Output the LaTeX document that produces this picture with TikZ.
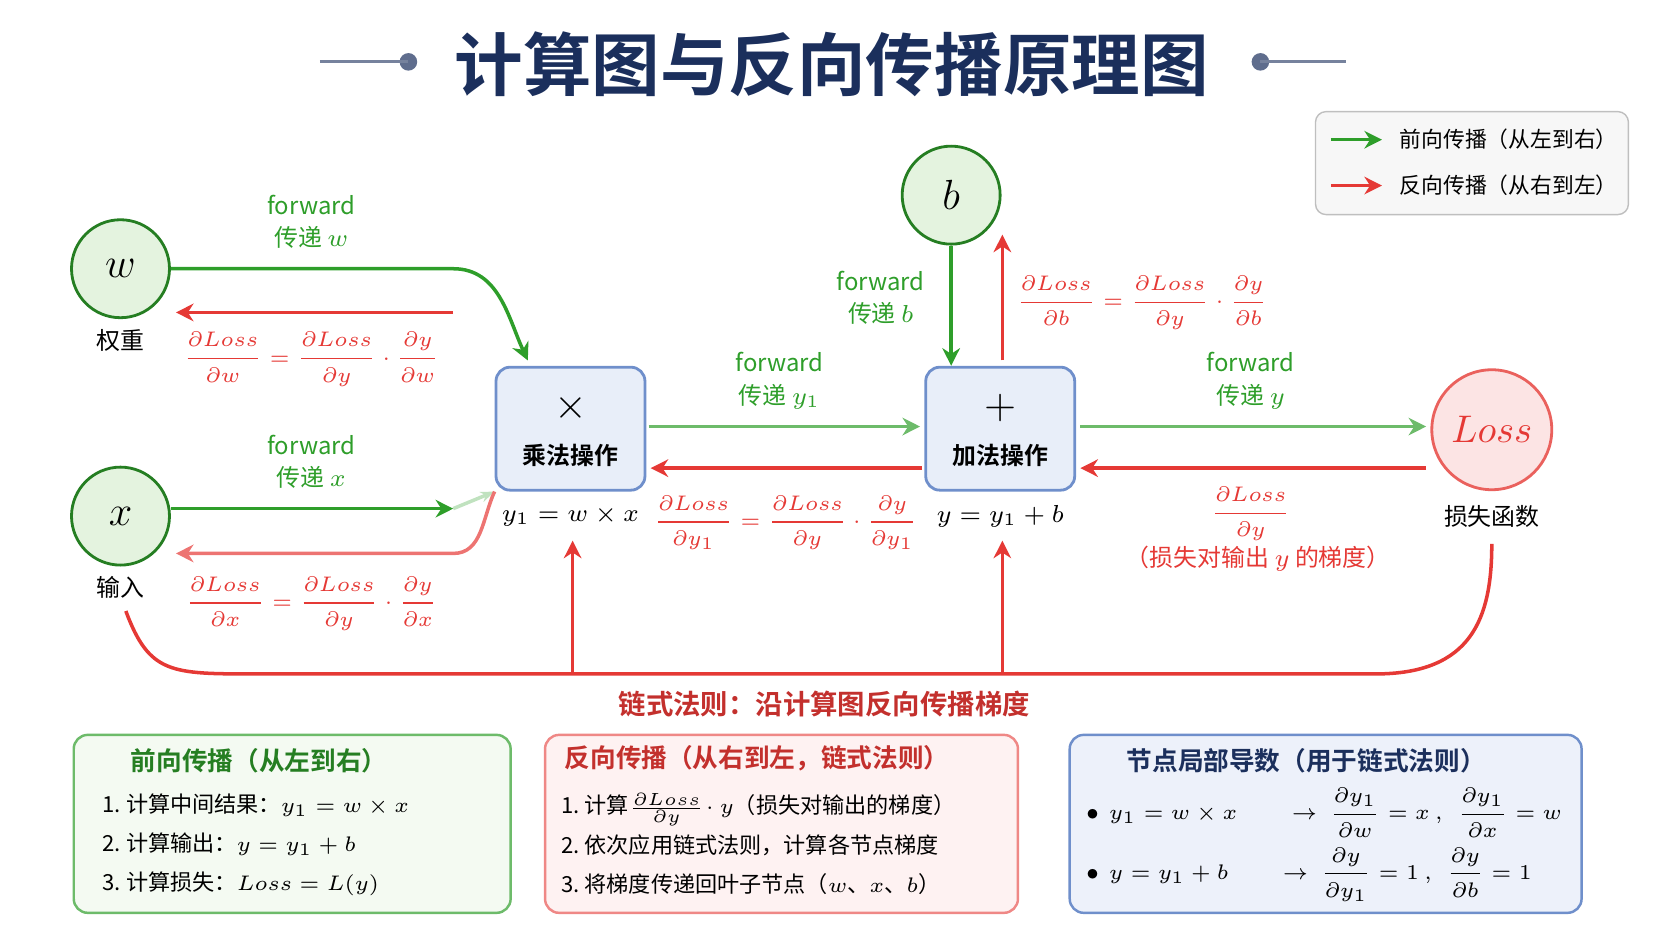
\documentclass[tikz,border=0pt]{standalone}
\usepackage{amsmath}
\usepackage{fontspec}
\newfontfamily\cjk{Noto Sans CJK SC}
\newfontfamily\cjkb{Noto Sans CJK SC Bold}
\usetikzlibrary{calc,arrows.meta}
\definecolor{fgreen}{HTML}{2E9E2A}
\definecolor{lgreen}{HTML}{E4F3DF}
\definecolor{bred}{HTML}{E53935}
\definecolor{lred}{HTML}{FCE4E4}
\definecolor{bblue}{HTML}{6F8FCB}
\definecolor{lblue}{HTML}{E8EEF9}
\definecolor{navy}{HTML}{1B2F5C}
\newcommand{\fs}[1]{\fontsize{#1}{#1}\selectfont}
\begin{document}
\begin{tikzpicture}[x={(0.010663cm,0)},y={(0,-0.010663cm)},
    leaf/.style={circle,draw=fgreen!80!black,line width=0.8pt,fill=lgreen,minimum size=0.98cm,inner sep=0pt},
    op/.style={rounded corners=4pt,draw=bblue,line width=0.8pt,fill=lblue,minimum width=1.49cm,minimum height=1.23cm},
    lbl/.style={font=\cjk\fs{6.8}},
    fwd/.style={font=\cjk\fontsize{6.8}{9.2}\selectfont,text=fgreen,align=center},
    grad/.style={font=\fs{6.4},text=bred},
    garr/.style={-{Stealth[length=5pt,width=5pt]},fgreen,line width=1pt},
    rarr/.style={-{Stealth[length=5pt,width=5pt]},bred,line width=1pt},
    panel/.style={rounded corners=4pt,line width=0.7pt,minimum height=1.78cm,anchor=north west},
    item/.style={font=\cjk\fs{6.3},anchor=west,inner sep=0.5pt}]
\useasboundingbox (0,0) rectangle (1568,882);
% title
\node[font=\cjkb\fs{19.5},text=navy] (title) at (780,60) {计算图与反向传播原理图};
\coordinate (tl) at (300,58); \coordinate (tr) at (1262,58);
\fill[navy!70] (383,58) circle (2.5pt) (1182,58) circle (2.5pt);
\draw[navy!60,line width=0.8pt] (tl) -- (383,58) (1182,58) -- (tr);
% legend
\node[draw=gray!50,fill=gray!6,rounded corners=3pt,minimum width=3.13cm,minimum height=1.03cm,anchor=north west] (leg) at (1233,104) {};
\coordinate (lg1) at (1248,131); \coordinate (lg2) at (1296,131);
\coordinate (lr1) at (1248,174); \coordinate (lr2) at (1296,174);
\draw[garr] (lg1) -- (lg2);
\draw[rarr] (lr1) -- (lr2);
\node[font=\cjk\fs{6.2},anchor=west,inner sep=0pt] (legf) at (1312,131) {前向传播（从左到右）};
\node[font=\cjk\fs{6.2},anchor=west,inner sep=0pt] (legb) at (1312,174) {反向传播（从右到左）};
% nodes
\node[leaf] (w) at (113,252) {\fs{13}$w$};
\node[leaf] (x) at (113,484) {\fs{13}$x$};
\node[leaf] (b) at (892,183) {\fs{13}$b$};
\node[circle,draw=bred!80,line width=0.8pt,fill=lred,minimum size=1.2cm,inner sep=0pt] (loss) at (1399,403) {\fs{11}\color{bred}$Loss$};
\node[lbl] (wl) at (113,319) {权重};
\node[lbl] (xl) at (113,551) {输入};
\node[lbl] (ll) at (1399,484) {损失函数};
\node[op] (mul) at (535,402) {};
\node[op] (add) at (938,402) {};
\node[font=\fs{12}] (mulsym) at (535,383) {$\times$};
\node[font=\fs{12}] (addsym) at (938,383) {$+$};
\node[lbl,font=\cjkb\fs{6.8}] (mult) at (535,427) {乘法操作};
\node[lbl,font=\cjkb\fs{6.8}] (addt) at (938,427) {加法操作};
\node[font=\fs{6.6}] (mule) at (535,484) {$y_1=w\times x$};
\node[font=\fs{6.6}] (adde) at (938,484) {$y=y_1+b$};
% forward arrows
\coordinate (wk) at (425,252);
\coordinate (wr) at (425,293); \coordinate (wre) at (165,293);
\coordinate (xk) at (425,477);
\coordinate (xr) at (425,519); \coordinate (xre) at (165,519);
\draw[garr] (w.east) -- (wk) to[out=0,in=115] (495,338);
\draw[rarr] (wr) -- (wre);
\draw[garr] (x.east |- xk) -- (xk);
\draw[fgreen!30,line width=1pt,-{Stealth[length=4pt]}] (xk) -- (mul.south west);
\draw[rarr,bred!70] (mul.south west) to[out=-115,in=0] (xr) -- (xre);
\draw[garr,fgreen!70] ($(mul.east)+(2,-2)$) -- ($(add.west)+(-4,-2)$);
\draw[rarr] ($(add.west)+(-2,37)$) -- ($(mul.east)+(4,37)$);
\draw[garr,fgreen!70] ($(add.east)+(4,-2)$) -- ($(loss.west)+(-4,-3)$);
\draw[rarr] ($(loss.west)+(-4,36)$) -- ($(add.east)+(4,37)$);
\draw[garr] (b.south) -- (b.south |- add.north);
\draw[rarr] (940,338) -- (940,220);
% labels
\node[fwd] (fw) at (292,208) {forward\\传递 $w$};
\node[fwd] (fx) at (292,433) {forward\\传递 $x$};
\node[fwd] (fy1) at (731,357) {forward\\传递 $y_1$};
\node[fwd] (fy) at (1173,357) {forward\\传递 $y$};
\node[fwd] (fb) at (826,279) {forward\\传递 $b$};
\node[grad] (gw) at (292,337) {$\dfrac{\partial Loss}{\partial w}=\dfrac{\partial Loss}{\partial y}\cdot\dfrac{\partial y}{\partial w}$};
\node[grad] (gx) at (292,566) {$\dfrac{\partial Loss}{\partial x}=\dfrac{\partial Loss}{\partial y}\cdot\dfrac{\partial y}{\partial x}$};
\node[grad] (gy1) at (737,490) {$\dfrac{\partial Loss}{\partial y_1}=\dfrac{\partial Loss}{\partial y}\cdot\dfrac{\partial y}{\partial y_1}$};
\node[grad] (gb) at (1071,284) {$\dfrac{\partial Loss}{\partial b}=\dfrac{\partial Loss}{\partial y}\cdot\dfrac{\partial y}{\partial b}$};
\node[grad] (gy) at (1173,482) {$\dfrac{\partial Loss}{\partial y}$};
\node[lbl,text=bred] (gyt) at (1180,524) {（损失对输出 $y$ 的梯度）};
% chain rule curve
\coordinate (cl) at (118,573); \coordinate (cr) at (1399,510);
\coordinate (c1) at (537,632); \coordinate (c2) at (940,632);
\draw[bred,line width=1pt] (cl) .. controls (140,632) and (160,632) .. (240,632) -- (1290,632) .. controls (1380,632) and (1399,580) .. (cr);
\draw[rarr] (c1) -- (537,507);
\draw[rarr] (c2) -- (940,507);
\node[font=\cjkb\fs{7.8},text=bred!85!black] (chain) at (773,660) {链式法则：沿计算图反向传播梯度};
% panels
\node[panel,draw=fgreen!70,fill=lgreen!40,minimum width=4.37cm] (p1) at (68,688) {};
\node[panel,draw=bred!60,fill=lred!50,minimum width=4.73cm] (p2) at (510,688) {};
\node[panel,draw=bblue,fill=lblue!80,minimum width=5.12cm] (p3) at (1002,688) {};
\node[font=\cjkb\fs{7.3},text=fgreen!80!black] (h1) at (243,713) {前向传播（从左到右）};
\node[font=\cjkb\fs{7.3},text=bred!85!black,inner sep=0pt] (h2) at (710,711) {反向传播（从右到左，链式法则）};
\node[font=\cjkb\fs{7.3},text=navy] (h3) at (1225,713) {节点局部导数（用于链式法则）};
\node[item] (a1) at (94,755) {1.\ 计算中间结果：$y_1=w\times x$};
\node[item] (a2) at (94,792) {2.\ 计算输出：$y=y_1+b$};
\node[item] (a3) at (94,829) {3.\ 计算损失：$Loss=L(y)$};
\node[item] (b1) at (524,759) {1.\ 计算$\frac{\partial Loss}{\partial y}\!\cdot y$（损失对输出的梯度）};
\node[item] (b2) at (524,793) {2.\ 依次应用链式法则，计算各节点梯度};
\node[item] (b3) at (524,829) {3.\ 将梯度传递回叶子节点（$w$、$x$、$b$）};
\node[item] (d1) at (1016,762) {$\bullet\ \ y_1=w\times x$\qquad\ \ $\rightarrow\ \dfrac{\partial y_1}{\partial w}=x\ ,\ \ \dfrac{\partial y_1}{\partial x}=w$};
\node[item] (d2) at (1016,820) {$\bullet\ \ y=y_1+b$\qquad\ \ $\rightarrow\ \dfrac{\partial y}{\partial y_1}=1\ ,\ \ \dfrac{\partial y}{\partial b}=1$};
\end{tikzpicture}
\end{document}
